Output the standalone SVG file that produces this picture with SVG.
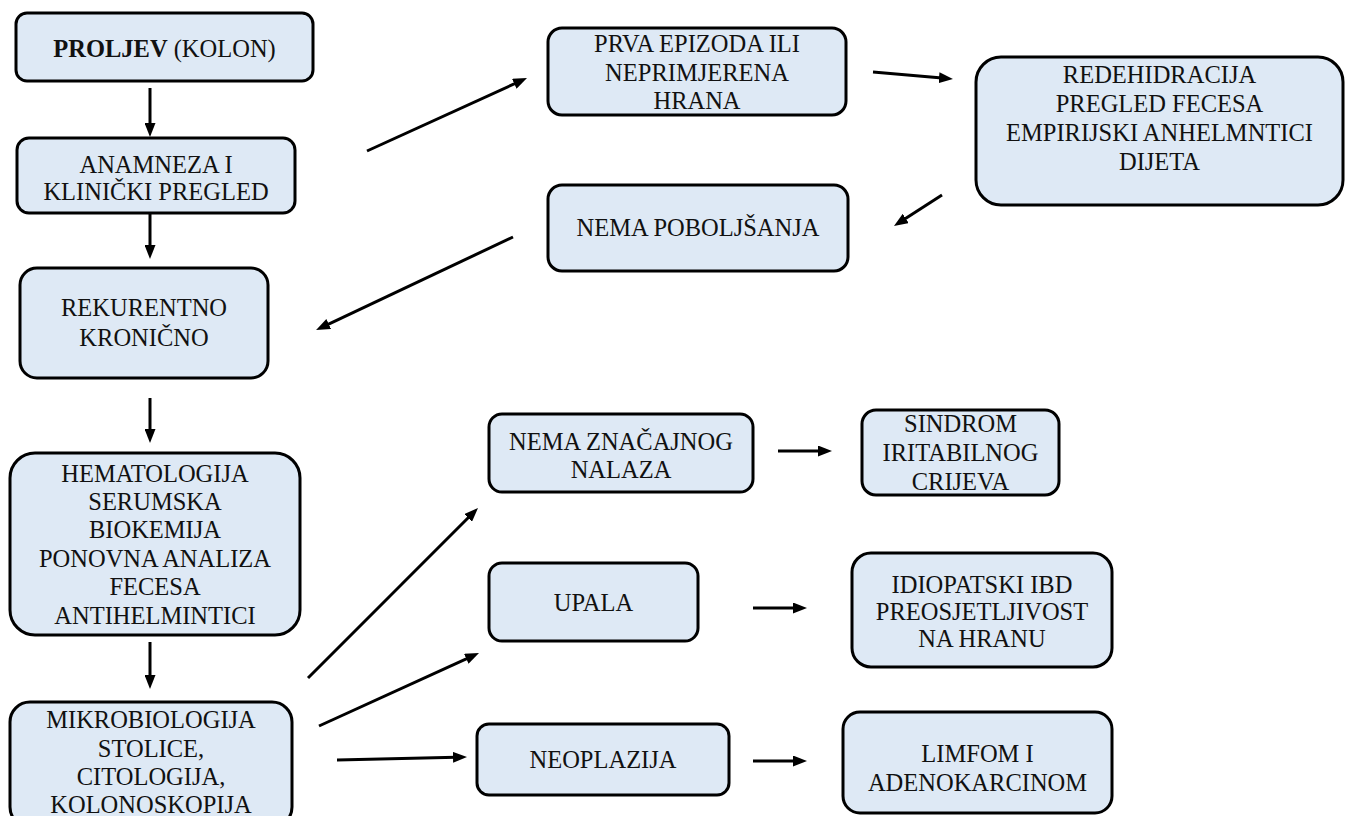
<svg xmlns="http://www.w3.org/2000/svg" width="1352" height="816" viewBox="0 0 1352 816">
<style>
.box{fill:#dee9f5;stroke:#000;stroke-width:3}
text{font-family:'Liberation Serif','DejaVu Serif',serif;font-size:24.5px;fill:#111;text-anchor:middle}
.b{font-weight:bold}
.c line{stroke:#000;stroke-width:3;marker-end:url(#ah)}
</style>
<defs>
<marker id="ah" markerUnits="userSpaceOnUse" markerWidth="14" markerHeight="11" viewBox="0 0 14 11" refX="3" refY="5.5" orient="auto">
<path d="M0,0 L14,5.5 L0,11 z" fill="#000"/>
</marker>
</defs>
<rect width="1352" height="816" fill="#fff"/>
<g id="n1"><rect class="box" x="16" y="13" width="297" height="68" rx="11"/><text x="164.5" y="57" font-family="Liberation Serif, serif"><tspan class="b">PROLJEV</tspan> (KOLON)</text></g>
<g id="n2"><rect class="box" x="17" y="138" width="278" height="75" rx="12"/><text x="156" y="173">ANAMNEZA I</text><text x="156" y="200">KLINIČKI PREGLED</text></g>
<g id="n3"><rect class="box" x="20" y="268" width="248" height="110" rx="17"/><text x="144" y="316">REKURENTNO</text><text x="144" y="346">KRONIČNO</text></g>
<g id="n4"><rect class="box" x="10" y="453" width="290" height="182" rx="25"/><text x="155" y="482">HEMATOLOGIJA</text><text x="155" y="510">SERUMSKA</text><text x="155" y="538">BIOKEMIJA</text><text x="155" y="567">PONOVNA ANALIZA</text><text x="155" y="595">FECESA</text><text x="155" y="624">ANTIHELMINTICI</text></g>
<g id="n5"><rect class="box" x="10" y="702" width="282" height="125" rx="20"/><text x="151" y="728">MIKROBIOLOGIJA</text><text x="151" y="757">STOLICE,</text><text x="151" y="785">CITOLOGIJA,</text><text x="151" y="813">KOLONOSKOPIJA</text></g>
<g id="n6"><rect class="box" x="548" y="28" width="298" height="87" rx="14"/><text x="697" y="52">PRVA EPIZODA ILI</text><text x="697" y="81">NEPRIMJERENA</text><text x="697" y="109">HRANA</text></g>
<g id="n7"><rect class="box" x="976" y="57" width="367" height="148" rx="25"/><text x="1159.5" y="83">REDEHIDRACIJA</text><text x="1159.5" y="112">PREGLED FECESA</text><text x="1159.5" y="141">EMPIRIJSKI ANHELMNTICI</text><text x="1159.5" y="170">DIJETA</text></g>
<g id="n8"><rect class="box" x="548" y="185" width="300" height="86" rx="14"/><text x="698" y="236">NEMA POBOLJŠANJA</text></g>
<g id="n9"><rect class="box" x="489" y="414" width="264" height="78" rx="13"/><text x="621" y="450">NEMA ZNAČAJNOG</text><text x="621" y="478">NALAZA</text></g>
<g id="n10"><rect class="box" x="862" y="410" width="197" height="85" rx="14"/><text x="960.5" y="432">SINDROM</text><text x="960.5" y="461">IRITABILNOG</text><text x="960.5" y="490">CRIJEVA</text></g>
<g id="n11"><rect class="box" x="489" y="563" width="209" height="78" rx="13"/><text x="593.5" y="611">UPALA</text></g>
<g id="n12"><rect class="box" x="852" y="553" width="260" height="114" rx="19"/><text x="982" y="593">IDIOPATSKI IBD</text><text x="982" y="620">PREOSJETLJIVOST</text><text x="982" y="647">NA HRANU</text></g>
<g id="n13"><rect class="box" x="477" y="724" width="252" height="71" rx="12"/><text x="603" y="768">NEOPLAZIJA</text></g>
<g id="n14"><rect class="box" x="843" y="712" width="269" height="101" rx="17"/><text x="977.5" y="762">LIMFOM I</text><text x="977.5" y="791">ADENOKARCINOM</text></g>
<g id="connectors" class="c">
<line x1="150" y1="88" x2="150" y2="126"/>
<line x1="150" y1="214" x2="150" y2="248"/>
<line x1="150" y1="398" x2="150" y2="432"/>
<line x1="150" y1="642" x2="150" y2="678"/>
<line x1="367" y1="151" x2="517" y2="82.6"/>
<line x1="873" y1="72" x2="942" y2="78"/>
<line x1="942" y1="195" x2="903.2" y2="220"/>
<line x1="513" y1="237" x2="326" y2="325.3"/>
<line x1="308" y1="678" x2="470.2" y2="515.8"/>
<line x1="319" y1="726" x2="469" y2="657.6"/>
<line x1="337" y1="760" x2="456" y2="757.3"/>
<line x1="778" y1="451" x2="821" y2="451"/>
<line x1="753" y1="608" x2="796" y2="608"/>
<line x1="753" y1="761" x2="796" y2="761"/>
</g>
</svg>
